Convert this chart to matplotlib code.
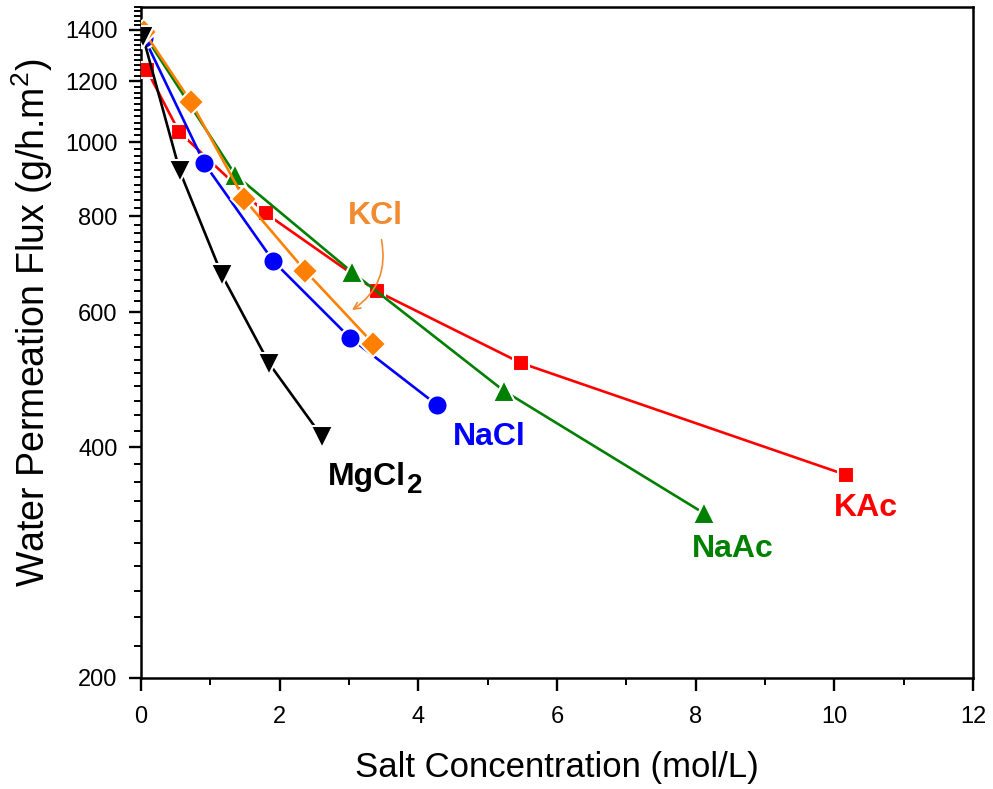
import matplotlib
matplotlib.use("Agg")
import matplotlib.pyplot as plt
from matplotlib.ticker import FixedLocator, MultipleLocator, NullFormatter, FixedFormatter

plt.rcParams['font.family'] = ['Liberation Sans', 'DejaVu Sans']
plt.rcParams['mathtext.fontset'] = 'custom'
plt.rcParams['mathtext.rm'] = 'Liberation Sans'
plt.rcParams['mathtext.bf'] = 'Liberation Sans:bold'

# Water permeation flux (g/h.m2) versus salt concentration (mol/L)
conc_mgcl2 = [0.03, 0.56, 1.17, 1.85, 2.61]
flux_mgcl2 = [1370, 916, 670, 514, 413]

conc_nacl = [0.05, 0.91, 1.91, 3.01, 4.27]
flux_nacl = [1365, 939, 699, 556, 454]

conc_kcl = [0.05, 0.72, 1.49, 2.37, 3.35]
flux_kcl = [1390, 1128, 842, 679, 546]

conc_kac = [0.08, 0.55, 1.80, 3.40, 5.48, 10.17]
flux_kac = [1243, 1031, 807, 639, 515, 368]

conc_naac = [0.05, 1.36, 3.04, 5.23, 8.12]
flux_naac = [1380, 906, 677, 474, 328]

y_ticks = [200, 400, 600, 800, 1000, 1200, 1400]
x_ticks = [0, 2, 4, 6, 8, 10, 12]

RED = '#FF0000'
GREEN = '#008000'
BLUE = '#0000FF'
ORANGE = '#FF8000'
ORANGE_TXT = '#F28A30'

fig = plt.figure(figsize=(9.93, 7.89), dpi=100)
ax = fig.add_axes([141 / 993, 1 - 678 / 789, (973 - 141) / 993, (678 - 7) / 789])

line_kw = dict(linewidth=1.9, markeredgecolor='white', markeredgewidth=1.5)
ax.plot(conc_kac, flux_kac, color=RED, marker='s', markersize=12, **line_kw, zorder=3)
ax.plot(conc_naac, flux_naac, color=GREEN, marker='^', markersize=16.5, **line_kw, zorder=3)
ax.plot(conc_nacl, flux_nacl, color=BLUE, marker='o', markersize=14.5, **line_kw, zorder=4)
ax.plot(conc_kcl, flux_kcl, color=ORANGE, marker='D', markersize=13.5, **line_kw, zorder=4)
ax.plot(conc_mgcl2, flux_mgcl2, color='black', marker='v', markersize=16.5, **line_kw, zorder=5)

ax.set_yscale('log')
ax.set_xlim(0, 12)
ax.set_ylim(200, 1500)
ax.yaxis.set_major_locator(FixedLocator(y_ticks))
ax.yaxis.set_minor_locator(FixedLocator([v for v in range(200, 1501, 20) if v not in y_ticks]))
ax.yaxis.set_major_formatter(FixedFormatter([str(v) for v in y_ticks]))
ax.yaxis.set_minor_formatter(NullFormatter())
ax.xaxis.set_major_locator(FixedLocator(x_ticks))
ax.xaxis.set_minor_locator(MultipleLocator(1))

for s in ax.spines.values():
    s.set_linewidth(1.8)
ax.tick_params(which='major', direction='out', length=9, width=1.7, labelsize=17)
ax.tick_params(which='minor', direction='out', length=5, width=1.4)
ax.tick_params(axis='x', which='major', pad=11)
ax.tick_params(axis='y', which='major', pad=8)
ax.tick_params(top=False, right=False, which='both')

ax.set_xlabel('Salt Concentration (mol/L)', fontsize=25, labelpad=17)
ax.set_ylabel('Water Permeation Flux (g/h.m$^2$)', fontsize=27)
ax.yaxis.set_label_coords(-0.103, 0.53)

lbl = dict(fontsize=23, fontweight='bold', va='center')
ax.text(3.38, 800, 'KCl', color=ORANGE_TXT, ha='center', **lbl)
ax.text(5.02, 413, 'NaCl', color=BLUE, ha='center', **lbl)
ax.text(8.54, 295, 'NaAc', color=GREEN, ha='center', **lbl)
ax.text(10.46, 333, 'KAc', color=RED, ha='center', **lbl)
# MgCl2 with a large, lowered subscript
ax.text(3.82, 366, 'MgCl', color='black', ha='right', **lbl)
ax.annotate('2', xy=(3.82, 366), xytext=(1, -7), textcoords='offset points',
            fontsize=20, fontweight='bold', ha='left', va='center', color='black')

ax.annotate('', xy=(3.01, 601), xytext=(3.46, 752),
            arrowprops=dict(arrowstyle='->', color=ORANGE_TXT, lw=1.2,
                            connectionstyle='arc3,rad=-0.35', mutation_scale=12))

fig.savefig('out.png', dpi=100)
